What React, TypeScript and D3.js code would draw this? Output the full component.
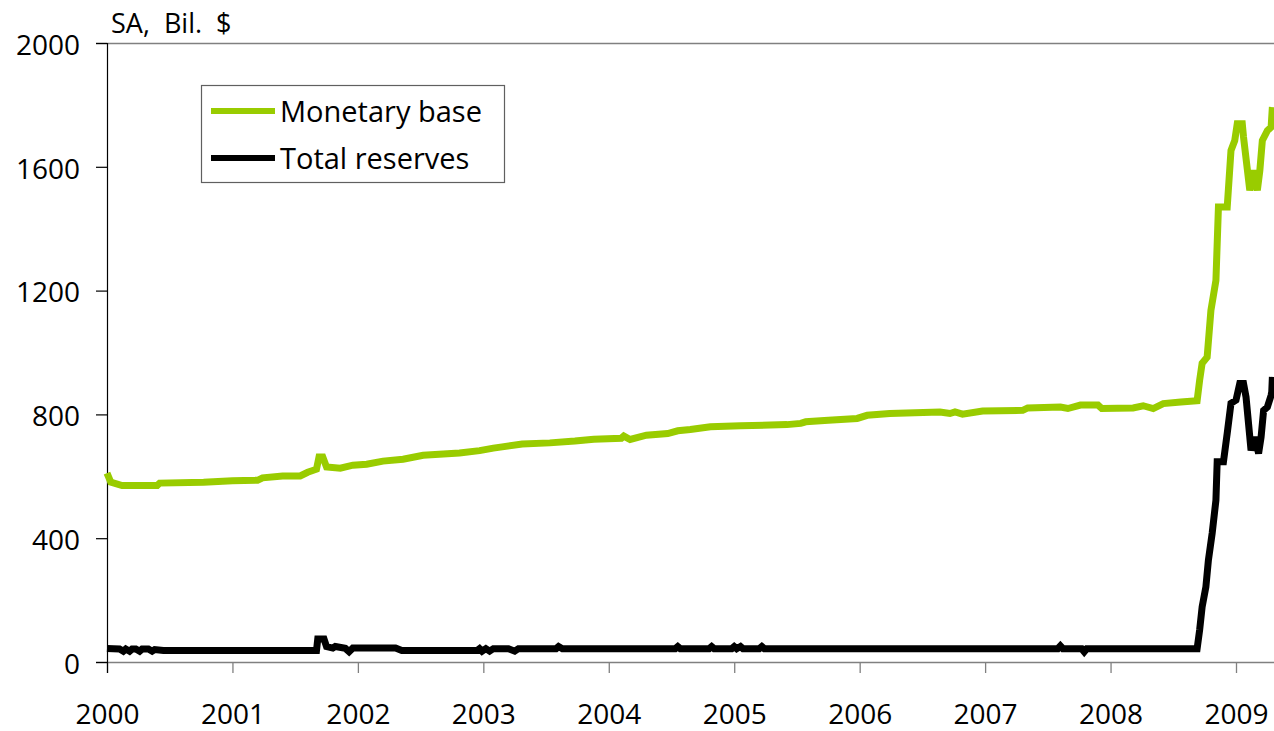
import React, { useEffect, useRef } from 'react';
import * as d3 from 'd3';

// [decimal year, billions of dollars]
const monetaryBase: [number, number][] = [
  [2000.0, 610], [2000.03, 581], [2000.12, 570], [2000.4, 570], [2000.42, 578], [2000.77, 581],
  [2001.0, 586], [2001.2, 587], [2001.24, 595], [2001.4, 601], [2001.54, 601], [2001.6, 613],
  [2001.67, 623], [2001.69, 662], [2001.72, 662], [2001.75, 630], [2001.86, 626], [2001.96, 636],
  [2002.07, 639], [2002.2, 649], [2002.36, 655], [2002.52, 668], [2002.81, 675], [2002.97, 683],
  [2003.08, 691], [2003.15, 695], [2003.31, 704], [2003.53, 708], [2003.73, 714], [2003.88, 720],
  [2004.1, 723], [2004.12, 730], [2004.17, 719], [2004.3, 733], [2004.47, 738], [2004.55, 747],
  [2004.65, 751], [2004.81, 760], [2005.05, 763], [2005.42, 767], [2005.53, 771], [2005.57, 776],
  [2005.75, 781], [2005.98, 787], [2006.06, 797], [2006.24, 803], [2006.64, 808], [2006.72, 803],
  [2006.76, 808], [2006.82, 801], [2006.98, 811], [2007.3, 813], [2007.34, 821], [2007.6, 824],
  [2007.66, 819], [2007.76, 830], [2007.9, 830], [2007.93, 819], [2008.18, 821], [2008.26, 828],
  [2008.34, 819], [2008.42, 835], [2008.56, 840], [2008.69, 844], [2008.71, 910], [2008.73, 965],
  [2008.77, 985], [2008.8, 1136], [2008.84, 1233], [2008.86, 1470], [2008.93, 1470], [2008.96, 1653],
  [2008.99, 1685], [2009.01, 1739], [2009.05, 1739], [2009.06, 1696], [2009.11, 1524], [2009.14, 1588],
  [2009.17, 1524], [2009.19, 1588], [2009.21, 1685], [2009.25, 1717], [2009.28, 1728], [2009.29, 1793],
];

const totalReserves: [number, number][] = [
  [2000.0, 44], [2000.1, 42], [2000.13, 35], [2000.15, 42], [2000.18, 35], [2000.2, 42],
  [2000.23, 42], [2000.26, 35], [2000.28, 42], [2000.33, 42], [2000.36, 35], [2000.38, 40],
  [2000.45, 37], [2001.67, 37], [2001.68, 74], [2001.73, 74], [2001.75, 50], [2001.8, 45],
  [2001.82, 50], [2001.9, 44], [2001.93, 33], [2001.96, 45], [2002.3, 45], [2002.35, 37],
  [2002.95, 37], [2002.97, 43], [2002.99, 35], [2003.02, 43], [2003.05, 35], [2003.08, 43],
  [2003.2, 43], [2003.25, 35], [2003.28, 43], [2003.58, 43], [2003.6, 50], [2003.63, 43],
  [2004.53, 43], [2004.55, 50], [2004.57, 43], [2004.8, 43], [2004.82, 50], [2004.84, 43],
  [2004.98, 43], [2005.0, 50], [2005.02, 43], [2005.05, 50], [2005.07, 43], [2005.2, 43],
  [2005.22, 50], [2005.24, 43], [2007.58, 43], [2007.6, 52], [2007.62, 43], [2007.77, 43],
  [2007.79, 33], [2007.81, 43], [2008.69, 43], [2008.71, 103], [2008.73, 178], [2008.76, 243],
  [2008.78, 329], [2008.81, 416], [2008.84, 523], [2008.85, 647], [2008.9, 647], [2008.93, 739],
  [2008.96, 836], [2009.0, 846], [2009.03, 900], [2009.06, 900], [2009.08, 856], [2009.12, 684],
  [2009.15, 727], [2009.18, 674], [2009.2, 727], [2009.22, 813], [2009.25, 824], [2009.28, 862],
  [2009.285, 873], [2009.29, 921],
];

const yTicks = [0, 400, 800, 1200, 1600, 2000];
const xTicks = [2000, 2001, 2002, 2003, 2004, 2005, 2006, 2007, 2008, 2009];

const series = [
  { name: 'Monetary base', data: monetaryBase, color: '#99cc00' },
  { name: 'Total reserves', data: totalReserves, color: '#000000' },
];

const FONT = "'Open Sans', 'Noto Sans', sans-serif";

export default function App() {
  const ref = useRef<SVGSVGElement>(null);

  useEffect(() => {
    if (!ref.current) return;
    const svg = d3.select(ref.current);
    svg.selectAll('*').remove();

    const width = 1274;
    const left = 107;
    const top = 43;
    const bottom = 662;

    const x = d3.scaleLinear().domain([2000, 2009]).range([left, 1236]);
    const y = d3.scaleLinear().domain([0, 2000]).range([bottom, top]);

    // top border
    svg.append('line')
      .attr('x1', 96).attr('x2', width)
      .attr('y1', top + 0.5).attr('y2', top + 0.5)
      .attr('stroke', '#808080').attr('stroke-width', 1.3);

    // x axis
    const xAxis = svg.append('g')
      .attr('transform', `translate(0,${bottom})`)
      .call(d3.axisBottom(x).tickValues(xTicks).tickFormat(d3.format('d')).tickSize(11).tickPadding(31));
    xAxis.select('.domain').remove();
    xAxis.selectAll('.tick line').attr('stroke', '#808080').attr('stroke-width', 1.3);
    xAxis.selectAll('text')
      .attr('font-family', FONT).attr('font-size', 28).attr('fill', '#000');

    svg.append('line')
      .attr('x1', 96).attr('x2', width)
      .attr('y1', bottom + 0.5).attr('y2', bottom + 0.5)
      .attr('stroke', '#808080').attr('stroke-width', 1.3);

    // y axis
    const yAxis = svg.append('g')
      .attr('transform', `translate(${left},0)`)
      .call(d3.axisLeft(y).tickValues(yTicks).tickFormat(d3.format('d')).tickSize(11).tickPadding(16));
    yAxis.select('.domain').remove();
    yAxis.selectAll('.tick line').attr('stroke', '#000').attr('stroke-width', 1.2);
    yAxis.selectAll('text')
      .attr('font-family', FONT).attr('font-size', 28).attr('fill', '#000')
      .attr('dy', '0.4em');

    svg.append('line')
      .attr('x1', left + 0.5).attr('x2', left + 0.5)
      .attr('y1', top).attr('y2', bottom + 11)
      .attr('stroke', '#000').attr('stroke-width', 1.2);

    // unit label
    svg.append('text')
      .attr('x', 111).attr('y', 33)
      .attr('font-family', FONT).attr('font-size', 27)
      .attr('xml:space', 'preserve')
      .text('SA,  Bil.  $');

    // lines
    const line = d3.line<[number, number]>()
      .x(d => x(d[0]))
      .y(d => y(d[1]));

    series.forEach(s => {
      svg.append('path')
        .datum(s.data)
        .attr('d', line)
        .attr('fill', 'none')
        .attr('stroke', s.color)
        .attr('stroke-width', 7)
        .attr('stroke-linejoin', 'miter');
    });

    // legend
    const lg = svg.append('g');
    lg.append('rect')
      .attr('x', 201.5).attr('y', 85.5).attr('width', 303).attr('height', 97)
      .attr('fill', '#fff').attr('stroke', '#606060').attr('stroke-width', 1.2);
    series.forEach((s, i) => {
      const cy = 111 + i * 47;
      lg.append('line')
        .attr('x1', 211).attr('x2', 275).attr('y1', cy).attr('y2', cy)
        .attr('stroke', s.color).attr('stroke-width', 6);
      lg.append('text')
        .attr('x', 280).attr('y', cy + 11)
        .attr('font-family', FONT).attr('font-size', 29)
        .text(s.name);
    });
  }, []);

  return (
    <svg
      ref={ref}
      width={1274}
      height={731}
      style={{ position: 'absolute', left: 0, top: 0, background: '#fff' }}
    />
  );
}
